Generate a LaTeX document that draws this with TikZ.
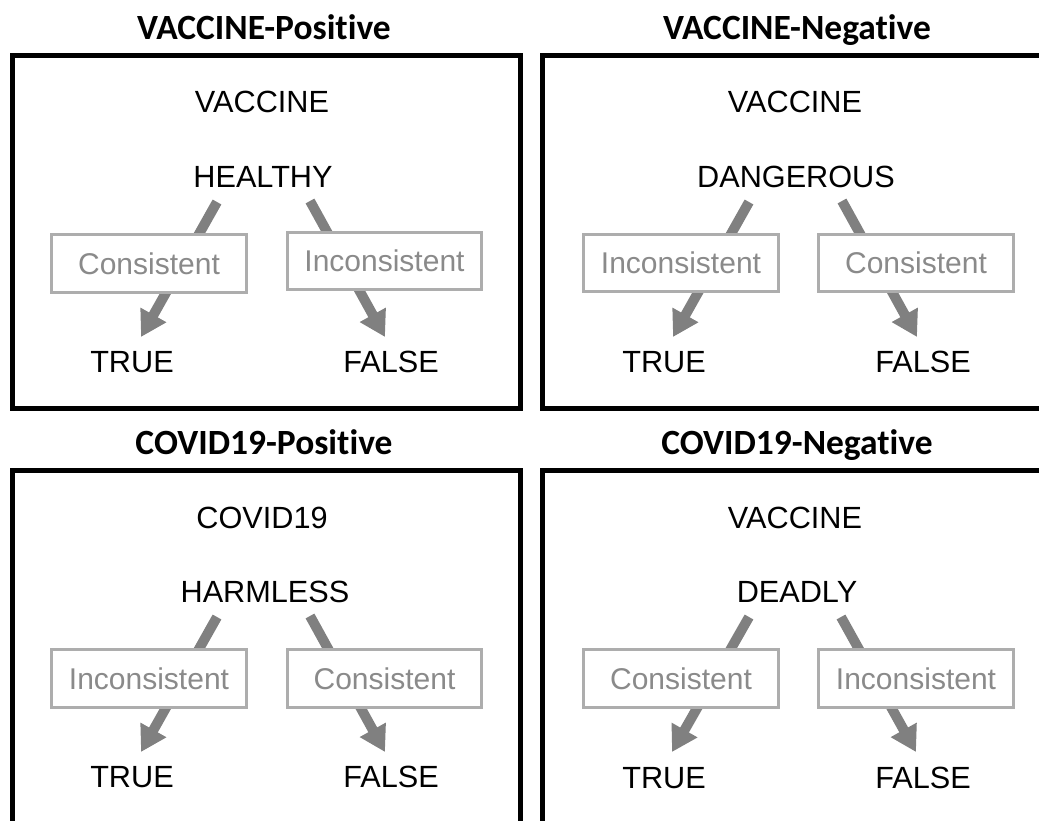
\documentclass[tikz,border=0pt]{standalone}
\usepackage{fontspec}
\setmainfont{Liberation Sans}
\newfontfamily\titlefont[Ligatures=NoCommon]{Carlito}
\usetikzlibrary{arrows.meta}

\definecolor{catgray}{HTML}{ADADAD}
\definecolor{txtgray}{HTML}{8A8A8A}
\definecolor{arrgray}{HTML}{808080}

\tikzset{
  Frame/.style={line width=3.75pt},
  Title/.style={anchor=base,inner sep=0pt,font=\titlefont\bfseries\fontsize{26.6}{32}\selectfont},
  Word/.style={inner sep=0pt,font=\fontsize{23}{28}\selectfont},
  Cat/.style={draw=catgray,line width=2.2pt,fill=white,text=txtgray,minimum width=146pt,minimum height=43pt,inner sep=0pt,font=\fontsize{22.5}{27}\selectfont},
  Flow/.style={draw=arrgray,line width=7.5pt,-{Triangle[width=21pt,length=19pt]}}
}

\begin{document}
\begin{tikzpicture}[x=0.75pt,y=-0.75pt]
\useasboundingbox (0,0) rectangle (1039,821);
\clip (0,0) rectangle (1039,821);

\node[Title] (vpTitle) at (264,39) {VACCINE-Positive};
\node[Title] (vnTitle) at (797,39) {VACCINE-Negative};
\node[Title] (cpTitle) at (264,454) {COVID19-Positive};
\node[Title] (cnTitle) at (797,454) {COVID19-Negative};

\draw[Frame] (12.5,55.5) rectangle (520,408);
\draw[Frame] (542,55.5) rectangle (1060,408);
\draw[Frame] (12.5,470.5) rectangle (520,840);
\draw[Frame] (542,470.5) rectangle (1060,840);

\node[Word] (vpSubj) at (262,102) {VACCINE};
\node[Word] (vpAttr) at (263,177) {HEALTHY};
\node[Word] (vpTrue) at (132,362) {TRUE};
\node[Word] (vpFalse) at (391,362) {FALSE};
\coordinate (vpL1) at (217,202);
\coordinate (vpL2) at (141,337);
\coordinate (vpR1) at (310,201);
\coordinate (vpR2) at (385,337);
\draw[Flow] (vpL1) -- (vpL2);
\draw[Flow] (vpR1) -- (vpR2);
\node[Cat] (vpCon) at (149,263.5) {Consistent};
\node[Cat] (vpInc) at (384.5,261) {Inconsistent};

\node[Word] (vnSubj) at (795,102) {VACCINE};
\node[Word] (vnAttr) at (796,177) {DANGEROUS};
\node[Word] (vnTrue) at (664,362) {TRUE};
\node[Word] (vnFalse) at (923,362) {FALSE};
\coordinate (vnL1) at (749,202);
\coordinate (vnL2) at (673,337);
\coordinate (vnR1) at (842,201);
\coordinate (vnR2) at (917,337);
\draw[Flow] (vnL1) -- (vnL2);
\draw[Flow] (vnR1) -- (vnR2);
\node[Cat] (vnInc) at (681,263) {Inconsistent};
\node[Cat] (vnCon) at (916,263) {Consistent};

\node[Word] (cpSubj) at (262,518) {COVID19};
\node[Word] (cpAttr) at (265,592) {HARMLESS};
\node[Word] (cpTrue) at (132,777) {TRUE};
\node[Word] (cpFalse) at (391,777) {FALSE};
\coordinate (cpL1) at (217,617);
\coordinate (cpL2) at (141,752);
\coordinate (cpR1) at (310,616);
\coordinate (cpR2) at (385,752);
\draw[Flow] (cpL1) -- (cpL2);
\draw[Flow] (cpR1) -- (cpR2);
\node[Cat] (cpInc) at (149,678.5) {Inconsistent};
\node[Cat] (cpCon) at (384.5,678.5) {Consistent};

\node[Word] (cnSubj) at (795,518) {VACCINE};
\node[Word] (cnAttr) at (797,592) {DEADLY};
\node[Word] (cnTrue) at (664,778) {TRUE};
\node[Word] (cnFalse) at (923,778) {FALSE};
\coordinate (cnL1) at (749,617);
\coordinate (cnL2) at (672,752);
\coordinate (cnR1) at (841,617);
\coordinate (cnR2) at (916,752);
\draw[Flow] (cnL1) -- (cnL2);
\draw[Flow] (cnR1) -- (cnR2);
\node[Cat] (cnCon) at (681,678.5) {Consistent};
\node[Cat] (cnInc) at (916,678.5) {Inconsistent};
\end{tikzpicture}
\end{document}
